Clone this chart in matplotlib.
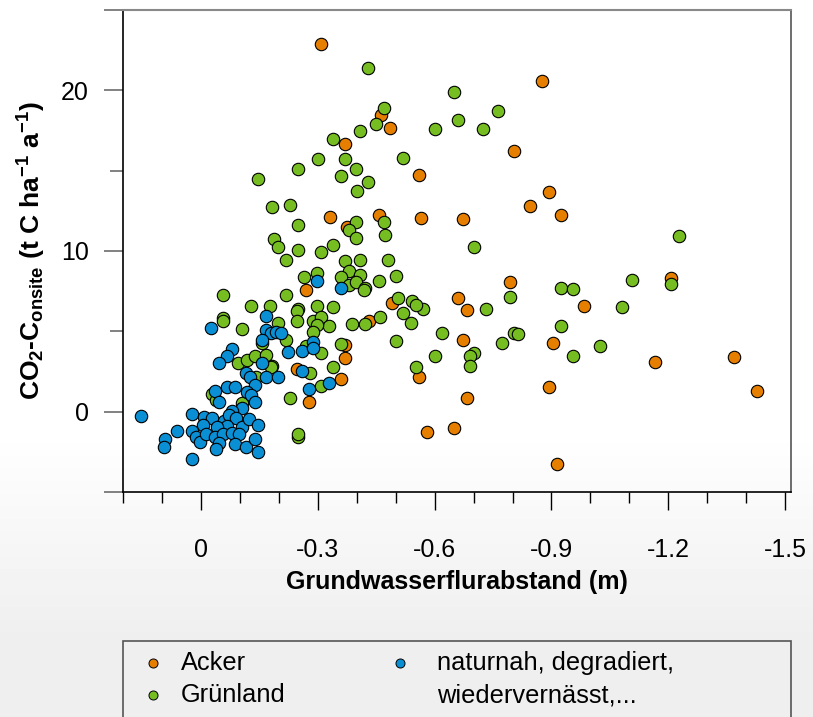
import numpy as np
import matplotlib
matplotlib.use("Agg")
import matplotlib.pyplot as plt
from matplotlib.lines import Line2D
from matplotlib.patches import Rectangle

plt.rcParams['font.family'] = ['Liberation Sans', 'DejaVu Sans']
plt.rcParams['axes.unicode_minus'] = False
plt.rcParams['mathtext.fontset'] = 'custom'
plt.rcParams['mathtext.rm'] = 'Liberation Sans'
plt.rcParams['mathtext.bf'] = 'Liberation Sans:bold'
plt.rcParams['mathtext.default'] = 'bf'

# ---------------- data ----------------
acker_x = [-0.309, -0.875, -0.463, -0.486, -0.371, -0.561, -0.803, -0.893, -0.844, -0.924,
           -0.566, -0.672, -0.332, -0.458, -0.376, -0.270, -0.793, -0.661, -0.983, -0.682,
           -0.491, -0.432, -0.371, -0.371, -0.672, -0.903, -0.247, -0.561, -0.360, -0.278,
           -0.893, -0.682, -0.581, -0.651, -0.913, -1.207, -1.166, -1.369, -1.428]
acker_y = [22.91, 20.56, 18.45, 17.65, 16.66, 14.74, 16.22, 13.68, 12.82, 12.26,
           12.07, 12.01, 12.14, 12.26, 11.52, 7.55, 8.05, 7.06, 6.56, 6.32,
           6.75, 5.63, 4.15, 3.34, 4.46, 4.27, 2.66, 2.17, 2.04, 0.62,
           1.55, 0.87, -1.24, -0.99, -3.28, 8.30, 3.10, 3.41, 1.30]

gruen_x = [-0.430, -0.471, -0.450, -0.409, -0.340, -0.301, -0.250, -0.371, -0.399, -0.360,
           -0.430, -0.401, -0.520, -0.602, -0.651, -0.661, -0.723, -0.762,
           -0.702, -0.924, -0.955, -0.793, -1.081, -0.571, -0.733, -0.924, -0.620, -0.803,
           -0.813, -0.772, -1.024, -0.602, -0.702, -0.692, -0.692, -0.955,
           -1.227, -1.106, -1.207,
           -0.147, -0.183, -0.229, -0.399, -0.381, -0.399, -0.250, -0.188, -0.198, -0.250,
           -0.309, -0.340, -0.219, -0.371, -0.409, -0.381, -0.298, -0.265, -0.360, -0.409,
           -0.381, -0.399, -0.422, -0.458, -0.057, -0.219, -0.129, -0.178, -0.250, -0.298,
           -0.340,
           -0.419, -0.247, -0.543, -0.553, -0.520, -0.247, -0.288, -0.309, -0.329, -0.298,
           -0.388, -0.422, -0.461, -0.540, -0.198, -0.288, -0.270, -0.219, -0.309, -0.360,
           -0.502, -0.183, -0.340, -0.280, -0.551, -0.309, -0.229, -0.250, -0.250,
           -0.057, -0.057, -0.105, -0.095, -0.118, -0.139, -0.167, -0.180, -0.142, -0.028,
           -0.039, -0.105, -0.157,
           -0.471, -0.473, -0.481, -0.502, -0.507]
gruen_y = [21.42, 18.89, 17.90, 17.46, 16.97, 15.73, 15.11, 15.73, 15.11, 14.68,
           14.30, 13.75, 15.79, 17.59, 19.88, 18.14, 17.59, 18.70,
           10.28, 7.68, 7.62, 7.12, 6.50, 6.38, 6.38, 5.33, 4.89, 4.89,
           4.83, 4.27, 4.09, 3.47, 3.65, 3.47, 2.85, 3.47,
           10.96, 8.17, 7.93,
           14.49, 12.76, 12.88, 11.83, 11.33, 10.84, 11.64, 10.77, 10.28, 10.09,
           9.91, 10.40, 9.47, 9.35, 9.47, 8.73, 8.61, 8.36, 8.36, 8.48,
           7.86, 8.05, 7.68, 8.11, 7.24, 7.24, 6.56, 6.56, 6.38, 6.56,
           6.50,
           7.55, 6.25, 6.87, 6.63, 6.13, 5.63, 5.63, 5.88, 5.33, 5.39,
           5.45, 5.45, 5.88, 5.51, 5.51, 4.95, 4.09, 4.46, 3.65, 4.21,
           4.40, 2.85, 2.79, 2.41, 2.79, 1.61, 0.87, -1.55, -1.42,
           5.82, 5.63, 5.14, 3.03, 3.22, 3.47, 3.53, 2.79, 2.17, 1.11,
           0.74, 0.56, 4.27,
           11.83, 11.02, 9.47, 8.42, 7.06]

natur_x = [-0.298, -0.360, -0.026, -0.167, -0.167, -0.180, -0.193, -0.206, -0.157, -0.224,
           -0.260, -0.288, -0.288, -0.080, -0.067, -0.046, -0.157, -0.116, -0.126, -0.167,
           -0.198, -0.260, -0.329, -0.278, -0.139, -0.036, -0.067, -0.087, -0.118, -0.129,
           -0.139, -0.046, -0.105, -0.080, 0.154, 0.023, -0.008, -0.028, -0.059, -0.072,
           -0.090, -0.105, -0.124, -0.147, -0.005, -0.067, -0.041, 0.062, 0.023, 0.013,
           0.003, -0.013, -0.036, -0.057, -0.080, -0.098, -0.046, -0.087, -0.116, -0.139,
           0.093, 0.095, -0.039, -0.147, 0.023]
natur_y = [8.11, 7.68, 5.20, 5.94, 5.08, 4.89, 4.95, 4.89, 4.46, 3.72,
           3.78, 4.33, 3.96, 3.90, 3.47, 3.03, 3.03, 2.41, 2.17, 2.17,
           2.17, 2.54, 1.80, 1.42, 1.67, 1.30, 1.55, 1.55, 1.24, 1.05,
           0.62, 0.62, 0.25, 0.06, -0.25, -0.12, -0.31, -0.37, -0.56, -0.19,
           -0.37, -0.93, -0.43, -0.80, -0.80, -0.87, -0.93, -1.18, -1.18, -1.55,
           -1.86, -1.42, -1.55, -1.42, -1.30, -1.42, -1.98, -2.04, -2.17, -1.73,
           -1.73, -2.23, -2.35, -2.54, -2.97]

x_ticks = [0, -0.3, -0.6, -0.9, -1.2, -1.5]
x_ticklabels = ['0', '-0.3', '-0.6', '-0.9', '-1.2', '-1.5']
y_ticks = [0, 10, 20]
y_ticklabels = ['0', '10', '20']
labels = ['Acker', 'Grünland', 'naturnah, degradiert,\nwiedervernässt,...']
colors = ['#E67E00', '#76BD22', '#0A8FD5']

# ---------------- figure ----------------
W, H = 813, 717
fig = plt.figure(figsize=(W / 100, H / 100), dpi=100)

# background gradient
bg = fig.add_axes([0, 0, 1, 1], zorder=-10)
rows = np.arange(H)
vals = np.ones(H)
y0, y1 = 430, 640
m = (rows > y0)
vals[m] = 1.0 - 0.065 * np.clip((rows[m] - y0) / (y1 - y0), 0, 1)
grad = np.repeat(vals[:, None], 4, axis=1)
bg.imshow(grad, cmap='gray', vmin=0, vmax=1, aspect='auto', extent=[0, 1, 0, 1], origin='upper')
bg.set_axis_off()

def fx(px):
    return px / W

def fy(py):
    return 1 - py / H

ax = fig.add_axes([fx(123), fy(492), (791 - 123) / W, (492 - 10) / H])
ax.set_facecolor('none')

sz = 80
ax.scatter(acker_x, acker_y, s=sz, c=colors[0], edgecolors='black', linewidths=0.8, zorder=3)
ax.scatter(gruen_x, gruen_y, s=sz, c=colors[1], edgecolors='black', linewidths=0.8, zorder=4)
ax.scatter(natur_x, natur_y, s=sz, c=colors[2], edgecolors='black', linewidths=0.8, zorder=5)

ax.set_xlim(0.2, -1.515)
ax.set_ylim(-5, 25)

ax.set_xticks(x_ticks)
ax.set_xticklabels(x_ticklabels)
ax.set_xticks(np.round(np.arange(0.2, -1.55, -0.1), 2), minor=True)
ax.set_yticks(y_ticks + [-5, 25])
ax.set_yticklabels(y_ticklabels + ['', ''])
ax.set_yticks([5, 15], minor=True)

ax.tick_params(axis='x', which='major', length=13, width=1, color='black', pad=20, labelsize=18)
ax.tick_params(axis='x', which='minor', length=8, width=1, color='black')
ax.tick_params(axis='y', which='major', length=13.5, width=1.3, color='#777777', pad=11, labelsize=18)
ax.tick_params(axis='y', which='minor', length=9.5, width=1.3, color='#777777')

for s in ['left', 'bottom']:
    ax.spines[s].set_color('black')
    ax.spines[s].set_linewidth(1.2)
ax.spines['top'].set_color('#888888')
ax.spines['top'].set_linewidth(1.5)
ax.spines['right'].set_color('#555555')
ax.spines['right'].set_linewidth(1.2)

ax.set_xlabel('Grundwasserflurabstand (m)', fontsize=18, fontweight='bold')
ax.xaxis.set_label_coords(0.5, (492 - 570) / 482)
ax.set_ylabel('CO$_2$-C$_{onsite}$ (t C ha$^{-1}$ a$^{-1}$)', fontsize=19, fontweight='bold')
ax.yaxis.set_label_coords((48 - 123) / 668, 0.5)

# ---------------- legend ----------------
rect = Rectangle((fx(123), fy(735)), (791 - 123) / W, (735 - 641) / H, transform=fig.transFigure,
                 facecolor='none', edgecolor='#555555', linewidth=1.2, zorder=2)
fig.add_artist(rect)
leg_pos = [(153, 663), (153, 695), (400, 663)]
txt_pos = [(181, 663), (181, 695), (437, 663)]
for i in range(3):
    fig.add_artist(Line2D([fx(leg_pos[i][0])], [fy(leg_pos[i][1])], transform=fig.transFigure,
                          marker='o', markersize=6.5, markerfacecolor=colors[i],
                          markeredgecolor='black', markeredgewidth=0.7, linestyle='none'))
    lines = labels[i].split('\n')
    for j, ln in enumerate(lines):
        fig.text(fx(txt_pos[i][0]), fy(txt_pos[i][1] + 32 * j), ln, fontsize=18.3,
                 ha='left', va='center')

fig.savefig('out.png', dpi=100)
